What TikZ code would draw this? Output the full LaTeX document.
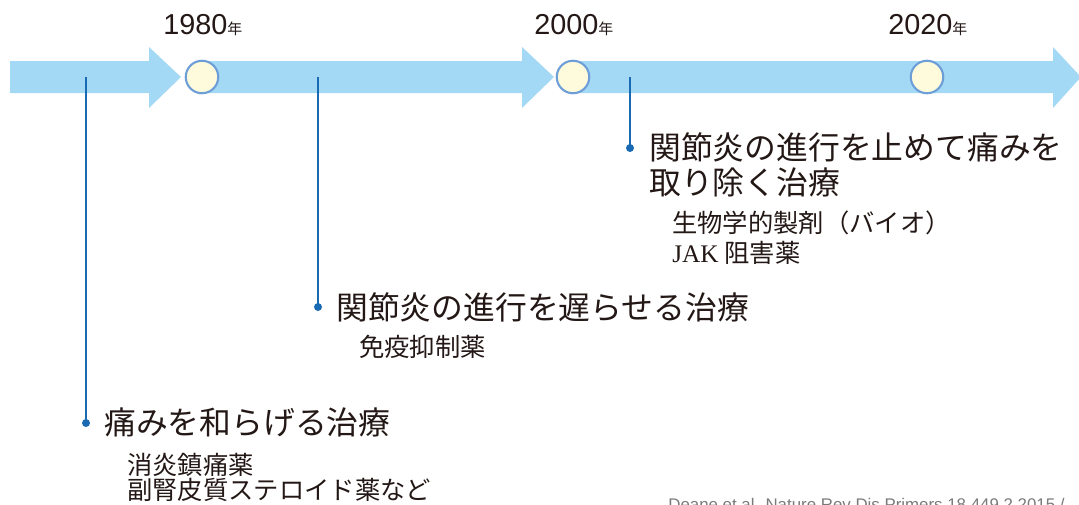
\documentclass[tikz,border=0pt]{standalone}
\usepackage{fontspec}
\setmainfont{Liberation Sans}
\newfontfamily\cjk{Noto Sans CJK JP}
\newfontfamily\yearfnt{Liberation Sans}
\newfontfamily\serifl{Liberation Serif}
\definecolor{arrowblue}{HTML}{A3D9F4}
\definecolor{circblue}{HTML}{6E9ED8}
\definecolor{circfill}{HTML}{FEFBDC}
\definecolor{lineblue}{HTML}{1A6AB3}
\definecolor{ink}{HTML}{231815}
\definecolor{greyink}{HTML}{7A7A7A}
\tikzset{
  bigtxt/.style={anchor=base west, inner sep=0pt, text=ink, align=left,
    font=\cjk\fontsize{18.1}{20.4}\selectfont},
  subtxt/.style={anchor=base west, inner sep=0pt, text=ink, align=left,
    font=\cjk\fontsize{14.4}{16.6}\selectfont},
  yeartxt/.style={anchor=base west, inner sep=0pt, text=ink,
    font=\yearfnt\fontsize{16.4}{16.4}\selectfont},
  yearcirc/.style={circle, draw=circblue, line width=1.2pt, fill=circfill,
    minimum size=0.65cm, inner sep=0pt},
  enddot/.style={circle, fill=lineblue, inner sep=0pt, minimum size=0.16cm},
  tline/.style={draw=lineblue, line width=1.2pt},
  arrowshape/.style={fill=arrowblue},
}
\newcommand{\nen}{{\cjk\fontsize{8.5}{8.5}\selectfont 年}}
\begin{document}
\begin{tikzpicture}[x=0.02cm, y=-0.02cm]
\useasboundingbox (0,0) rectangle (1079,504);
% arrows
\fill[arrowshape] (10,61) -- (149,61) -- (149,47) -- (181,77) -- (149,108) -- (149,93) -- (10,93) -- cycle;
\fill[arrowshape] (202,61) -- (522,61) -- (522,47) -- (554,77) -- (522,108) -- (522,93) -- (202,93) -- cycle;
\fill[arrowshape] (573,61) -- (1053,61) -- (1053,47) -- (1081,77) -- (1053,108) -- (1053,93) -- (573,93) -- cycle;
% axis anchor points
\coordinate (a1) at (86,77);
\coordinate (a2) at (318,77);
\coordinate (a3) at (630,77);
% end dots
\node[enddot] (d1) at (86,423) {};
\node[enddot] (d2) at (318,307) {};
\node[enddot] (d3) at (630,148) {};
\draw[tline] (a1) -- (d1.center);
\draw[tline] (a2) -- (d2.center);
\draw[tline] (a3) -- (d3.center);
% year circles
\node[yearcirc] (c1980) at (202,77) {};
\node[yearcirc] (c2000) at (573,77) {};
\node[yearcirc] (c2020) at (927,77) {};
% year labels
\node[yeartxt] (y1980) at (163,34) {1980\nen};
\node[yeartxt] (y2000) at (534,34) {2000\nen};
\node[yeartxt] (y2020) at (888,34) {2020\nen};
% texts
\node[bigtxt] (t1) at (104,434) {痛みを和らげる治療};
\node[subtxt] (s1a) at (127,474.5) {消炎鎮痛薬};
\node[subtxt] (s1b) at (127,499) {副腎皮質ステロイド薬など};
\node[bigtxt] (t2) at (336,319.5) {関節炎の進行を遅らせる治療};
\node[subtxt] (s2) at (359,356.5) {免疫抑制薬};
\node[bigtxt] (t3a) at (649,159) {関節炎の進行を止めて痛みを};
\node[bigtxt] (t3b) at (649,194.5) {取り除く治療};
\node[subtxt] (s3a) at (672,232.5) {生物学的製剤（バイオ）};
\node[subtxt] (s3b) at (672,262) {{\serifl JAK} 阻害薬};
% source note (cut off at bottom edge, as in the reference)
\node[anchor=base west, inner sep=0pt, text=greyink, font=\fontsize{9.6}{9.6}\selectfont] (src) at (668,510) {Deane et al. Nature Rev Dis Primers 18 449 2 2015 /};
\end{tikzpicture}
\end{document}
